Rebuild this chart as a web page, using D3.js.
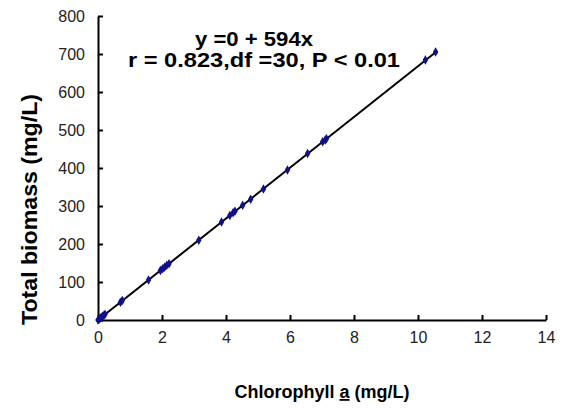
<!DOCTYPE html>
<html>
<head>
<meta charset="utf-8">
<script src="https://cdn.jsdelivr.net/npm/d3@7"></script>
<style>
  body { margin: 0; background: #fff; }
  text { font-family: "Liberation Sans", Arial, sans-serif; }
</style>
</head>
<body>
<script>
// chlorophyll a (mg/L) vs total biomass (mg/L)
const chla = [0.0, 0.03, 0.06, 0.1, 0.14, 0.18, 0.22, 0.7, 0.76, 1.58, 1.95, 2.02, 2.08, 2.15, 2.22,
  3.15, 3.86, 4.12, 4.22, 4.28, 4.52, 4.77, 5.17, 5.92, 6.55, 7.02, 7.1, 7.14, 10.23, 10.55];
const biomass = [0, 2, 4, 7, 9, 12, 15, 47, 51, 105, 130, 135, 139, 144, 148,
  210, 258, 275, 282, 286, 302, 318, 345, 395, 438, 469, 474, 477, 684, 705];
const fitLine = [[0, 0], [10.6, 708]];
const xTicks = [0, 2, 4, 6, 8, 10, 12, 14];
const yTicks = [0, 100, 200, 300, 400, 500, 600, 700, 800];

const width = 561, height = 409;
const margin = { top: 16, right: 15, bottom: 89, left: 98 };

const svg = d3.select('body').append('svg')
  .attr('width', width)
  .attr('height', height);

const x = d3.scaleLinear().domain([0, 14]).range([margin.left, width - margin.right]);
const y = d3.scaleLinear().domain([0, 800]).range([height - margin.bottom, margin.top]);

// axes, ticks pointing inward
const xAxis = svg.append('g')
  .attr('transform', `translate(0,${y(0)})`)
  .call(d3.axisBottom(x).tickValues(xTicks).tickSizeInner(-5).tickSizeOuter(0).tickPadding(12));
const yAxis = svg.append('g')
  .attr('transform', `translate(${x(0)},0)`)
  .call(d3.axisLeft(y).tickValues(yTicks).tickSizeInner(-5).tickSizeOuter(0).tickPadding(13));

[xAxis, yAxis].forEach(g => {
  g.select('.domain').attr('stroke', '#000').attr('stroke-width', 2);
  g.selectAll('.tick line').attr('stroke', '#000').attr('stroke-width', 2);
  g.selectAll('.tick text').attr('fill', '#222').style('font-size', '16px');
});

// regression line
svg.append('path')
  .datum(fitLine)
  .attr('d', d3.line().x(d => x(d[0])).y(d => y(d[1])))
  .attr('fill', 'none')
  .attr('stroke', '#000')
  .attr('stroke-width', 2);

// data points (small navy diamonds)
svg.append('g')
  .selectAll('path')
  .data(chla.map((c, i) => [c, biomass[i]]))
  .enter().append('path')
  .attr('transform', d => `translate(${x(d[0])},${y(d[1])})`)
  .attr('d', d3.symbol().type(d3.symbolDiamond).size(26))
  .attr('fill', '#10108a');

// annotation
svg.append('text')
  .attr('x', 195).attr('y', 46)
  .attr('textLength', 118).attr('lengthAdjust', 'spacingAndGlyphs')
  .style('font-size', '20px').style('font-weight', 'bold')
  .text('y =0 + 594x');
svg.append('text')
  .attr('x', 128).attr('y', 67)
  .attr('textLength', 272).attr('lengthAdjust', 'spacingAndGlyphs')
  .style('font-size', '20px').style('font-weight', 'bold')
  .text('r = 0.823,df =30, P < 0.01');

// axis titles
svg.append('text')
  .attr('transform', 'translate(37,325) rotate(-90)')
  .attr('textLength', 231).attr('lengthAdjust', 'spacingAndGlyphs')
  .style('font-size', '22px').style('font-weight', 'bold')
  .text('Total biomass (mg/L)');

const xt = svg.append('text')
  .attr('x', 322).attr('y', 398)
  .attr('text-anchor', 'middle')
  .style('font-size', '18px').style('font-weight', 'bold');
xt.append('tspan').text('Chlorophyll ');
xt.append('tspan').attr('text-decoration', 'underline').text('a');
xt.append('tspan').text(' (mg/L)');
</script>
</body>
</html>
